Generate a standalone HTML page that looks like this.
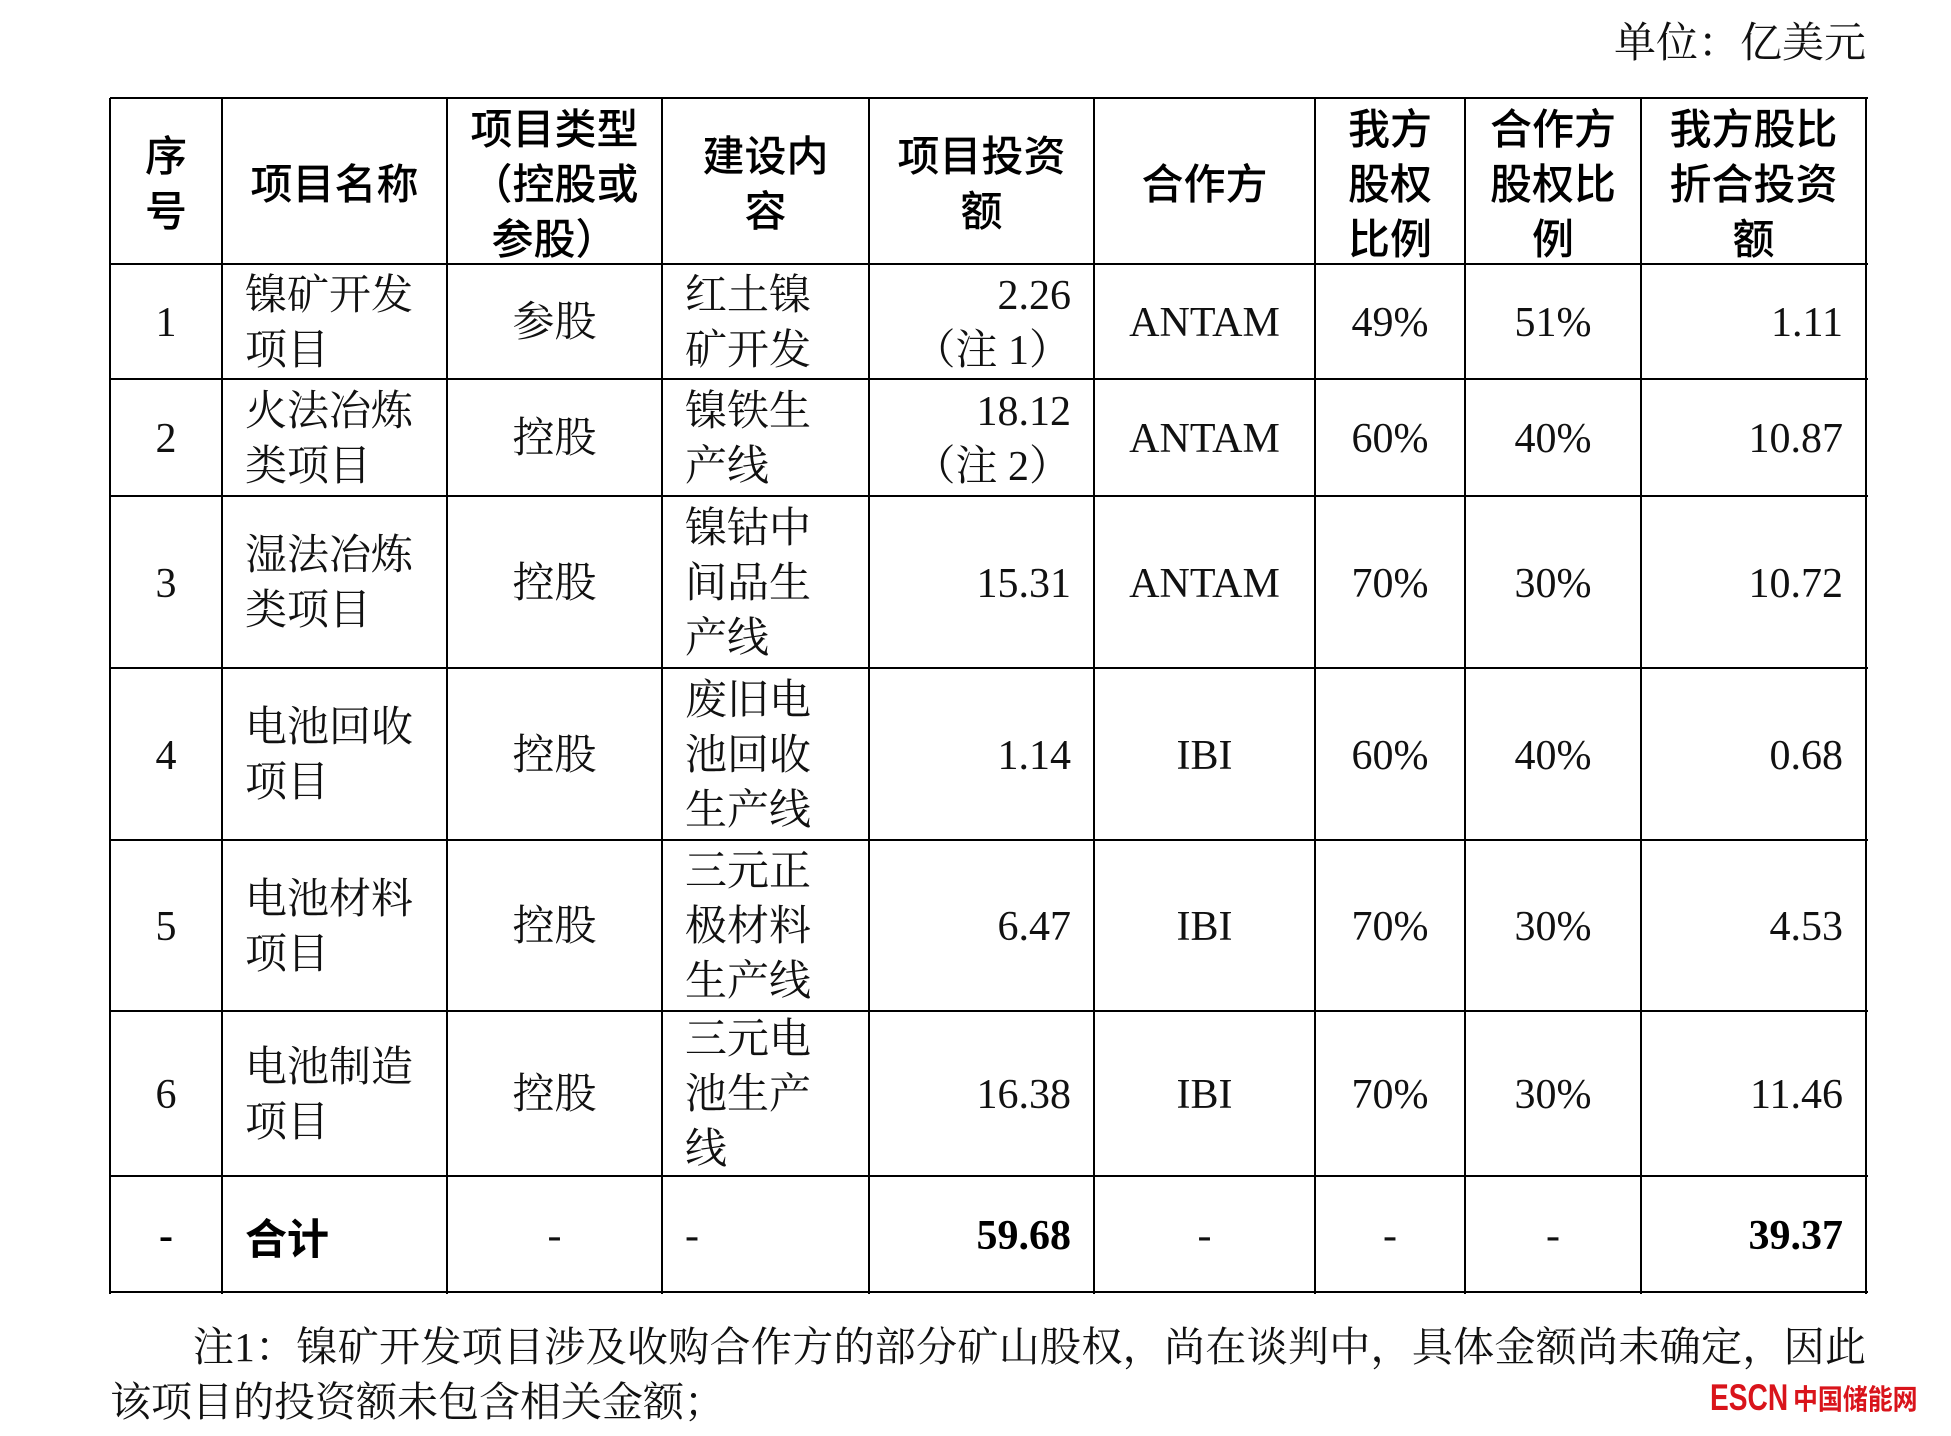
<!DOCTYPE html>
<html>
<head>
<meta charset="utf-8">
<style>
html,body{margin:0;padding:0;background:#fff;}
body{width:1951px;height:1436px;position:relative;overflow:hidden;
  font-family:"Liberation Serif","Noto Serif CJK SC",serif;font-size:42px;color:#111;}
.hl{position:absolute;height:2px;background:#000;left:110px;width:1758px;}
.vl{position:absolute;width:2px;background:#000;top:98px;height:1196px;}
.row{position:absolute;left:0;width:1951px;}
.c{position:absolute;top:0;height:100%;display:flex;align-items:center;box-sizing:border-box;padding-top:4px;}
.h .c{padding-top:0;}
.c>div{line-height:55px;white-space:nowrap;}
.l{justify-content:flex-start;text-align:left;padding-left:22px;}
.m{justify-content:center;text-align:center;}
.r{justify-content:flex-end;text-align:right;padding-right:22px;}
.k1{left:111px;width:110px;}
.k2{left:223px;width:223px;}
.k3{left:448px;width:213px;}
.k4{left:663px;width:205px;}
.k5{left:870px;width:223px;}
.k6{left:1095px;width:219px;}
.k7{left:1316px;width:148px;}
.k8{left:1466px;width:174px;}
.k9{left:1642px;width:223px;}
.h{font-family:"Noto Sans CJK SC","WenQuanYi Zen Hei",sans-serif;font-weight:500;color:#000;}
.b{font-weight:bold;color:#000;}
.unit{position:absolute;right:85px;top:17px;line-height:55px;white-space:nowrap;}
.note{position:absolute;left:110px;width:1756px;line-height:55px;font-size:41px;}
.wm{position:absolute;color:#d9141b;font-weight:bold;white-space:nowrap;transform-origin:0 0;}
</style>
</head>
<body>
<div class="unit">单位：亿美元</div>

<!-- grid lines -->
<div class="hl" style="top:97px"></div>
<div class="hl" style="top:263px"></div>
<div class="hl" style="top:378px"></div>
<div class="hl" style="top:495px"></div>
<div class="hl" style="top:667px"></div>
<div class="hl" style="top:839px"></div>
<div class="hl" style="top:1010px"></div>
<div class="hl" style="top:1175px"></div>
<div class="hl" style="top:1291px"></div>

<div class="vl" style="left:109px"></div>
<div class="vl" style="left:221px"></div>
<div class="vl" style="left:446px"></div>
<div class="vl" style="left:661px"></div>
<div class="vl" style="left:868px"></div>
<div class="vl" style="left:1093px"></div>
<div class="vl" style="left:1314px"></div>
<div class="vl" style="left:1464px"></div>
<div class="vl" style="left:1640px"></div>
<div class="vl" style="left:1865px"></div>

<!-- header -->
<div class="row h" style="top:99px;height:164px;">
  <div class="c m k1"><div>序<br>号</div></div>
  <div class="c m k2"><div>项目名称</div></div>
  <div class="c m k3"><div>项目类型<br>（控股或<br>参股）</div></div>
  <div class="c m k4"><div>建设内<br>容</div></div>
  <div class="c m k5"><div>项目投资<br>额</div></div>
  <div class="c m k6"><div>合作方</div></div>
  <div class="c m k7"><div>我方<br>股权<br>比例</div></div>
  <div class="c m k8"><div>合作方<br>股权比<br>例</div></div>
  <div class="c m k9"><div>我方股比<br>折合投资<br>额</div></div>
</div>

<!-- row 1 -->
<div class="row" style="top:265px;height:113px;">
  <div class="c m k1"><div>1</div></div>
  <div class="c l k2"><div>镍矿开发<br>项目</div></div>
  <div class="c m k3"><div>参股</div></div>
  <div class="c l k4"><div>红土镍<br>矿开发</div></div>
  <div class="c r k5"><div>2.26<br>（注 1）</div></div>
  <div class="c m k6"><div>ANTAM</div></div>
  <div class="c m k7"><div>49%</div></div>
  <div class="c m k8"><div>51%</div></div>
  <div class="c r k9"><div>1.11</div></div>
</div>

<!-- row 2 -->
<div class="row" style="top:380px;height:115px;">
  <div class="c m k1"><div>2</div></div>
  <div class="c l k2"><div>火法冶炼<br>类项目</div></div>
  <div class="c m k3"><div>控股</div></div>
  <div class="c l k4"><div>镍铁生<br>产线</div></div>
  <div class="c r k5"><div>18.12<br>（注 2）</div></div>
  <div class="c m k6"><div>ANTAM</div></div>
  <div class="c m k7"><div>60%</div></div>
  <div class="c m k8"><div>40%</div></div>
  <div class="c r k9"><div>10.87</div></div>
</div>

<!-- row 3 -->
<div class="row" style="top:497px;height:170px;">
  <div class="c m k1"><div>3</div></div>
  <div class="c l k2"><div>湿法冶炼<br>类项目</div></div>
  <div class="c m k3"><div>控股</div></div>
  <div class="c l k4"><div>镍钴中<br>间品生<br>产线</div></div>
  <div class="c r k5"><div>15.31</div></div>
  <div class="c m k6"><div>ANTAM</div></div>
  <div class="c m k7"><div>70%</div></div>
  <div class="c m k8"><div>30%</div></div>
  <div class="c r k9"><div>10.72</div></div>
</div>

<!-- row 4 -->
<div class="row" style="top:669px;height:170px;">
  <div class="c m k1"><div>4</div></div>
  <div class="c l k2"><div>电池回收<br>项目</div></div>
  <div class="c m k3"><div>控股</div></div>
  <div class="c l k4"><div>废旧电<br>池回收<br>生产线</div></div>
  <div class="c r k5"><div>1.14</div></div>
  <div class="c m k6"><div>IBI</div></div>
  <div class="c m k7"><div>60%</div></div>
  <div class="c m k8"><div>40%</div></div>
  <div class="c r k9"><div>0.68</div></div>
</div>

<!-- row 5 -->
<div class="row" style="top:841px;height:169px;">
  <div class="c m k1"><div>5</div></div>
  <div class="c l k2"><div>电池材料<br>项目</div></div>
  <div class="c m k3"><div>控股</div></div>
  <div class="c l k4"><div>三元正<br>极材料<br>生产线</div></div>
  <div class="c r k5"><div>6.47</div></div>
  <div class="c m k6"><div>IBI</div></div>
  <div class="c m k7"><div>70%</div></div>
  <div class="c m k8"><div>30%</div></div>
  <div class="c r k9"><div>4.53</div></div>
</div>

<!-- row 6 -->
<div class="row" style="top:1012px;height:163px;">
  <div class="c m k1"><div>6</div></div>
  <div class="c l k2"><div>电池制造<br>项目</div></div>
  <div class="c m k3"><div>控股</div></div>
  <div class="c l k4"><div>三元电<br>池生产<br>线</div></div>
  <div class="c r k5"><div>16.38</div></div>
  <div class="c m k6"><div>IBI</div></div>
  <div class="c m k7"><div>70%</div></div>
  <div class="c m k8"><div>30%</div></div>
  <div class="c r k9"><div>11.46</div></div>
</div>

<!-- total -->
<div class="row" style="top:1177px;height:114px;">
  <div class="c m k1 b"><div>-</div></div>
  <div class="c l k2 h" style="font-weight:bold;"><div>合计</div></div>
  <div class="c m k3"><div>-</div></div>
  <div class="c l k4"><div>-</div></div>
  <div class="c r k5 b"><div>59.68</div></div>
  <div class="c m k6"><div>-</div></div>
  <div class="c m k7"><div>-</div></div>
  <div class="c m k8"><div>-</div></div>
  <div class="c r k9 b"><div>39.37</div></div>
</div>

<!-- notes -->
<div class="note" style="top:1320px;text-indent:83px;text-align:justify;text-align-last:justify;white-space:nowrap;">注1：镍矿开发项目涉及收购合作方的部分矿山股权，尚在谈判中，具体金额尚未确定，因此</div>
<div class="note" style="top:1375px;text-align:left;white-space:nowrap;">该项目的投资额未包含相关金额；</div>

<div class="wm" style="left:1710px;top:1378px;font-family:'Liberation Sans',sans-serif;font-size:37px;line-height:40px;transform:scaleX(0.76);">ESCN</div>
<div class="wm" style="left:1793px;top:1380px;font-family:'Noto Sans CJK SC',sans-serif;font-size:28px;line-height:36px;transform:scaleX(0.89);">中国储能网</div>
</body>
</html>
